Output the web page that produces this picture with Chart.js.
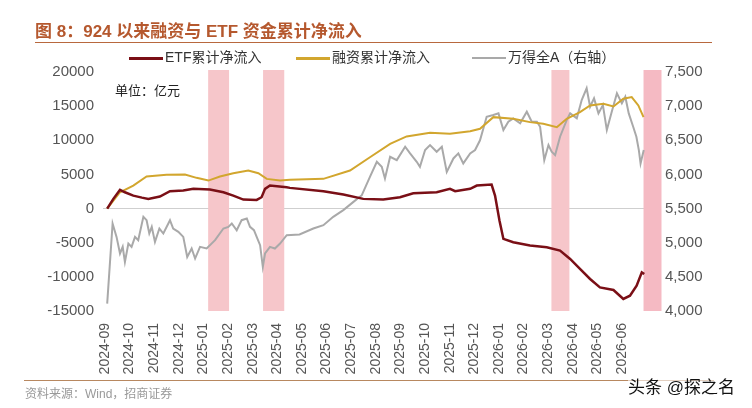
<!DOCTYPE html>
<html>
<head>
<meta charset="utf-8">
<script src="https://cdn.jsdelivr.net/npm/chart.js@4.4.1/dist/chart.umd.min.js"></script>
<style>
  body { margin: 0; background: #fff; font-family: "Liberation Sans", Arial, "Noto Sans CJK SC", sans-serif; }
  #wrap { position: relative; width: 752px; height: 408px; overflow: hidden; }
  #chart { position: absolute; left: 0; top: 0; }
  .abs { position: absolute; white-space: nowrap; }
  #title { left: 35px; top: 17px; font-size: 17px; font-weight: bold; color: #B5582E; }
  #titleLine { left: 35px; top: 42px; width: 677px; height: 0; border-top: 1.5px solid #B8683E; }
  .leg { top: 46px; font-size: 14px; color: #333; }
  .leg i { display: inline-block; width: 34px; height: 0; vertical-align: middle; margin-right: 2px; }
  #unit { left: 115px; top: 80px; font-size: 13px; color: #222; }
  #bottomLine { left: 24px; top: 380px; width: 690px; height: 0; border-top: 1px solid #B88860; }
  #source { left: 25px; top: 384px; font-size: 12px; color: #999; }
  #mark { left: 628px; top: 373px; font-size: 17px; color: #111; background: rgba(255,255,255,0.6); }
</style>
</head>
<body>
<div id="wrap">
  <canvas id="chart" width="752" height="408"></canvas>
  <div class="abs" id="title">图 8：924 以来融资与 ETF 资金累计净流入</div>
  <div class="abs" id="titleLine"></div>
  <div class="abs leg" style="left:129px"><i style="border-top:3px solid #7A0F16"></i>ETF累计净流入</div>
  <div class="abs leg" style="left:296px"><i style="border-top:3px solid #D2A62E"></i>融资累计净流入</div>
  <div class="abs leg" style="left:472px"><i style="border-top:2px solid #A9A9A9"></i>万得全A（右轴）</div>
  <div class="abs" id="unit">单位：亿元</div>
  <div class="abs" id="bottomLine"></div>
  <div class="abs" id="source">资料来源：Wind，招商证券</div>
  <div class="abs" id="mark">头条 @探之名</div>
</div>
<script>
// x 轴刻度（按月），数据横坐标以月为单位（0 = 2024-09）
const monthLabels = [
  '2024-09', '2024-10', '2024-11', '2024-12',
  '2025-01', '2025-02', '2025-03', '2025-04', '2025-05', '2025-06',
  '2025-07', '2025-08', '2025-09', '2025-10', '2025-11', '2025-12',
  '2026-01', '2026-02', '2026-03', '2026-04', '2026-05', '2026-06'
];

// ETF累计净流入（亿元）[月, 值]
const etfSeries = [
  [0.09, 0], [0.34, 1420], [0.61, 2740], [0.81, 2390], [1.15, 1900], [1.5, 1600], [1.76, 1420],
  [2.23, 1760], [2.64, 2540], [3.18, 2640], [3.59, 2890], [4.26, 2790], [4.81, 2390], [5.21, 1900],
  [5.62, 1320], [6.16, 1270], [6.36, 1660], [6.5, 2890], [6.7, 3370], [7.38, 3120], [7.51, 3030],
  [8.87, 2540], [9.68, 2050], [10.49, 1420], [11.3, 1320], [11.98, 1660], [12.52, 2250], [13.47, 2390],
  [14.01, 2890], [14.22, 2540], [14.83, 2890], [15.1, 3370], [15.7, 3520], [15.84, 1900], [16.02, -1760],
  [16.18, -4440], [16.58, -4940], [17.26, -5420], [17.94, -5670], [18.48, -6160], [18.89, -7380],
  [19.29, -8840], [19.7, -10310], [20.1, -11540], [20.65, -11920], [21.05, -13240], [21.32, -12760],
  [21.59, -11290], [21.8, -9340], [21.9, -9580]
];

// 融资累计净流入（亿元）[月, 值]
const financeSeries = [
  [0.09, 0], [0.61, 2390], [1.15, 3370], [1.69, 4690], [2.5, 4940], [3.25, 4990], [3.72, 4500],
  [4.2, 4100], [4.67, 4690], [5.21, 5180], [5.82, 5570], [6.23, 5180], [6.57, 4350], [7.11, 4100],
  [7.51, 4210], [8.87, 4350], [9.95, 5570], [10.76, 7520], [11.58, 9480], [12.25, 10560], [13.2, 11100],
  [14.01, 10950], [14.83, 11330], [15.23, 11690], [15.77, 13390], [16.58, 13150], [17.26, 12660],
  [17.8, 12420], [18.35, 11920], [18.75, 13150], [19.29, 14120], [19.7, 15100], [20.24, 15340],
  [20.65, 14960], [21.05, 16080], [21.39, 16330], [21.66, 15100], [21.87, 13390]
];

// 万得全A（右轴）[月, 值]
const windSeries = [
  [0.09, 4108], [0.31, 5281], [0.47, 5085], [0.61, 4842], [0.72, 4939], [0.81, 4719], [0.95, 4988],
  [1.08, 4939], [1.22, 5085], [1.35, 5037], [1.56, 5379], [1.69, 5330], [1.8, 5135], [1.9, 5232],
  [2.03, 5012], [2.21, 5208], [2.37, 5135], [2.64, 5330], [2.77, 5208], [2.98, 5159], [3.18, 5085],
  [3.34, 4792], [3.52, 4915], [3.66, 4768], [3.86, 4939], [4.13, 4915], [4.47, 5037], [4.81, 5208],
  [5.01, 5232], [5.15, 5281], [5.35, 5183], [5.55, 5330], [5.76, 5355], [5.89, 5232], [6.05, 5183],
  [6.19, 5061], [6.3, 4963], [6.41, 4646], [6.5, 4842], [6.7, 4939], [6.9, 4915], [7.11, 4988],
  [7.38, 5110], [7.9, 5120], [8.46, 5208], [8.87, 5257], [9.27, 5379], [9.68, 5477], [10.09, 5598],
  [10.43, 5696], [10.76, 5965], [11.04, 6185], [11.24, 6112], [11.37, 5941], [11.58, 6258], [11.85, 6210],
  [12.19, 6405], [12.39, 6308], [12.66, 6185], [12.79, 6112], [13.0, 6357], [13.2, 6430], [13.47, 6332],
  [13.68, 6405], [13.88, 6038], [14.15, 6234], [14.35, 6308], [14.55, 6161], [14.83, 6308], [15.03, 6357],
  [15.23, 6500], [15.5, 6845], [15.77, 6870], [15.98, 6894], [16.18, 6650], [16.38, 6772], [16.58, 6821],
  [16.86, 6748], [17.13, 6918], [17.33, 6772], [17.54, 6772], [17.67, 6698], [17.84, 6210], [18.01, 6430],
  [18.14, 6332], [18.28, 6283], [18.48, 6552], [18.75, 6796], [18.89, 6894], [19.16, 6821], [19.36, 7089],
  [19.56, 7261], [19.7, 6992], [19.86, 7114], [20.04, 6894], [20.22, 7016], [20.38, 6650], [20.58, 6918],
  [20.79, 7188], [20.99, 7041], [21.13, 7138], [21.27, 6894], [21.45, 6698], [21.58, 6552], [21.68, 6357],
  [21.75, 6161], [21.88, 6357]
];

// 阴影区间（月）
const bandStarts = [4.19, 6.42, 18.13, 21.87];
const bandEnds = [5.04, 7.28, 18.86, 22.6];
const bandColors = ['#F6C6CA', '#F6C6CA', '#F6C6CA', '#F5BAC3'];

const toPoints = (series) => series.map(([x, y]) => ({ x, y }));

const bandsPlugin = {
    id: 'bands',
    beforeDatasetsDraw(chart) {
        const { ctx, chartArea, scales } = chart;
        ctx.save();
        bandStarts.forEach((start, i) => {
            const x1 = scales.x.getPixelForValue(start);
            const x2 = scales.x.getPixelForValue(bandEnds[i]);
            ctx.fillStyle = bandColors[i];
            ctx.fillRect(x1, chartArea.top - 2, x2 - x1, chartArea.bottom - chartArea.top + 2);
        });
        ctx.restore();
    }
};

const tickFont = { family: '"Liberation Sans", Arial, sans-serif', size: 15 };

new Chart(document.getElementById('chart'), {
    type: 'line',
    data: {
        datasets: [
            {
                label: '万得全A（右轴）',
                data: toPoints(windSeries),
                yAxisID: 'y1',
                borderColor: '#A9A9A9',
                borderWidth: 2,
                pointRadius: 0,
                order: 3
            },
            {
                label: '融资累计净流入',
                data: toPoints(financeSeries),
                yAxisID: 'y',
                borderColor: '#D2A62E',
                borderWidth: 2,
                pointRadius: 0,
                order: 2
            },
            {
                label: 'ETF累计净流入',
                data: toPoints(etfSeries),
                yAxisID: 'y',
                borderColor: '#7A0F16',
                borderWidth: 2.5,
                pointRadius: 0,
                order: 1
            }
        ]
    },
    options: {
        responsive: false,
        animation: false,
        layout: { padding: { top: 72, left: 0, right: 0, bottom: 0 } },
        scales: {
            x: {
                type: 'linear',
                min: -0.08,
                max: 21.93,
                afterBuildTicks: (scale) => {
                    scale.ticks = monthLabels.map((_, i) => ({ value: i }));
                },
                afterFit: (scale) => { scale.height = 97; },
                ticks: {
                    minRotation: 90,
                    maxRotation: 90,
                    autoSkip: false,
                    padding: 4,
                    color: '#555',
                    font: { family: '"Liberation Sans", Arial, sans-serif', size: 14 },
                    callback: (value) => monthLabels[value] ?? ''
                },
                grid: { display: false },
                border: { display: false }
            },
            y: {
                position: 'left',
                min: -15000,
                max: 20000,
                afterBuildTicks: (scale) => {
                    const ticks = [];
                    for (let v = -15000; v <= 20000; v += 5000) ticks.push({ value: v });
                    scale.ticks = ticks;
                },
                afterFit: (scale) => { scale.width = 103; },
                ticks: {
                    color: '#555',
                    padding: 9,
                    font: tickFont,
                    callback: (value) => String(value)
                },
                grid: {
                    drawTicks: false,
                    color: (c) => (c.tick && c.tick.value === 0 ? '#CFCFCF' : 'rgba(0,0,0,0)'),
                    lineWidth: 1
                },
                border: { display: false }
            },
            y1: {
                position: 'right',
                min: 4000,
                max: 7500,
                afterBuildTicks: (scale) => {
                    const ticks = [];
                    for (let v = 4000; v <= 7500; v += 500) ticks.push({ value: v });
                    scale.ticks = ticks;
                },
                afterFit: (scale) => { scale.width = 107; },
                ticks: {
                    color: '#555',
                    padding: 12,
                    font: tickFont,
                    callback: (value) => value.toLocaleString('en-US')
                },
                grid: { display: false },
                border: { display: false }
            }
        },
        plugins: {
            legend: { display: false },
            tooltip: { enabled: false }
        }
    },
    plugins: [bandsPlugin]
});
</script>
</body>
</html>
